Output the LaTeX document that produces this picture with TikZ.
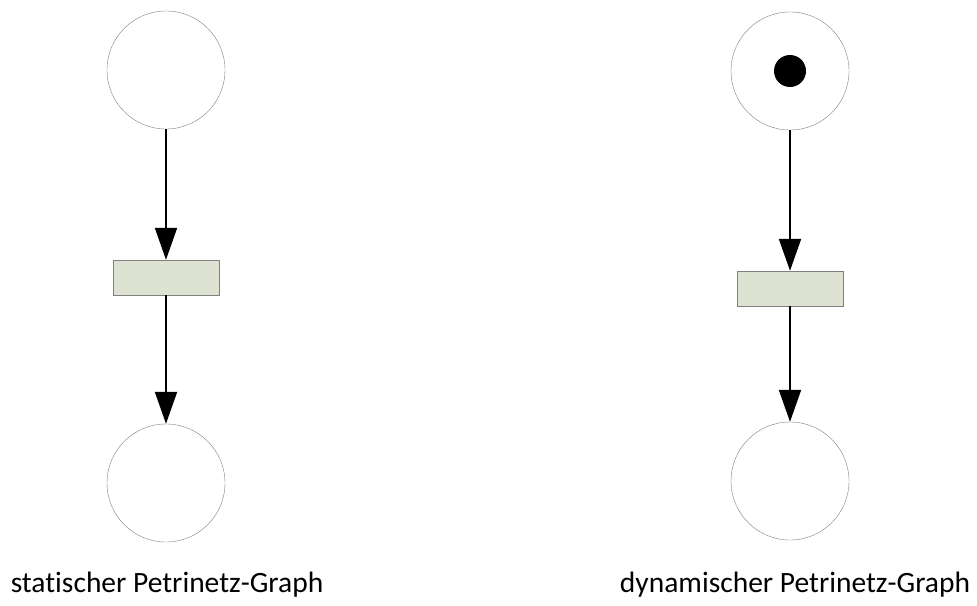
\documentclass[tikz,border=0pt]{standalone}
\usepackage{fontspec}
\setmainfont{Carlito}[Ligatures=NoCommon]
\usetikzlibrary{arrows.meta}
\definecolor{transfill}{HTML}{DDE2D2}
\definecolor{placeline}{HTML}{808080}
\begin{document}
\begin{tikzpicture}[x=1pt,y=-1pt]
    \tikzstyle{place}=[circle,draw=placeline,fill=white,minimum size=118pt,inner sep=0pt]
    \tikzstyle{trans}=[rectangle,draw=placeline,fill=transfill,minimum width=106pt,minimum height=35pt,inner sep=0pt]
    \tikzstyle{arc}=[line width=2pt,-{Triangle[length=32pt,width=22pt]}]
    \tikzstyle{caption}=[font=\fontsize{29.5}{34}\selectfont,anchor=base]
    \useasboundingbox (0,0) rectangle (977,605);
    % statischer Graph
    \draw (166,70) node[place] (p1) {};
    \draw (166,277.5) node[trans] (t1) {};
    \draw (166,483) node[place] (p2) {};
    \draw[arc] (p1) -- (t1);
    \draw[arc] (t1) -- (p2);
    \draw (167,592) node[caption] (l1) {statischer Petrinetz-Graph};
    % dynamischer Graph
    \draw (790,71) node[place] (p3) {};
    \fill (p3) circle (16pt);
    \draw (790,288.5) node[trans] (t2) {};
    \draw (790,481) node[place] (p4) {};
    \draw[arc] (p3) -- (t2);
    \draw[arc] (t2) -- (p4);
    \draw (795,592) node[caption] (l2) {dynamischer Petrinetz-Graph};
\end{tikzpicture}
\end{document}
